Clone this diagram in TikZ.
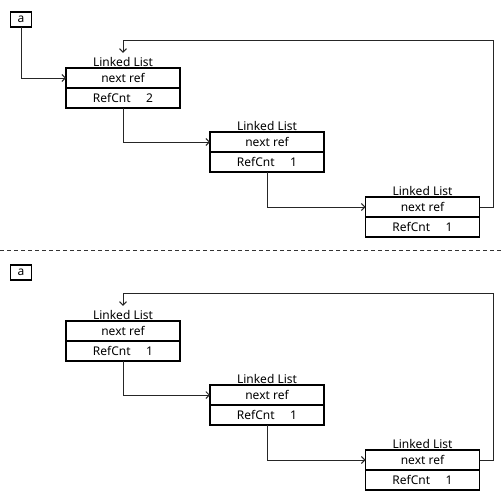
\documentclass[tikz,border=0pt]{standalone}
\usepackage{fontspec}
\setmainfont{Noto Sans}
\usetikzlibrary{arrows.meta,positioning}

\begin{document}
\begin{tikzpicture}[x=1pt,y=-1pt,>={Straight Barb[length=3.5pt,width=7pt]},
            every node/.style={font=\fontsize{12}{14}\selectfont,outer sep=0pt},
            field/.style={draw,line width=1.8pt,minimum width=114pt,minimum height=20pt,inner sep=0pt},
            var/.style={draw,line width=1.8pt,minimum width=21pt,minimum height=15pt,inner sep=0pt},
            title/.style={inner sep=1.5pt},
            link/.style={->,line width=0.9pt,draw=black!85}]
            \useasboundingbox (0,0) rectangle (504,503);

            % before
            \node[var]   (a1)                        at (21,19.5)  {a};
            \node[field] (n11)                       at (123,78)   {next ref};
            \node[field] (c11) [below=0pt of n11]                  {RefCnt\hspace{1.3em}2};
            \node[title] (t11) [above=0pt of n11]                  {Linked List};
            \node[field] (n12)                       at (267,142)  {next ref};
            \node[field] (c12) [below=0pt of n12]                  {RefCnt\hspace{1.3em}1};
            \node[title] (t12) [above=0pt of n12]                  {Linked List};
            \node[field] (n13)                       at (422.5,207) {next ref};
            \node[field] (c13) [below=0pt of n13]                  {RefCnt\hspace{1.3em}1};
            \node[title] (t13) [above=0pt of n13]                  {Linked List};
            \coordinate (r1) at (493,40);
            \draw[link] (a1) |- (n11);
            \draw[link] (c11) |- (n12);
            \draw[link] (c12) |- (n13);
            \draw[link,shorten >=3pt] (n13) -| (r1) -| (t11);

            \draw[dash pattern=on 4pt off 3pt,line width=0.8pt,black!80] (0,250) -- (504,250);

            % after
            \node[var]   (a2)                        at (21,272.5) {a};
            \node[field] (n21)                       at (123,331)  {next ref};
            \node[field] (c21) [below=0pt of n21]                  {RefCnt\hspace{1.3em}1};
            \node[title] (t21) [above=0pt of n21]                  {Linked List};
            \node[field] (n22)                       at (267,395)  {next ref};
            \node[field] (c22) [below=0pt of n22]                  {RefCnt\hspace{1.3em}1};
            \node[title] (t22) [above=0pt of n22]                  {Linked List};
            \node[field] (n23)                       at (422.5,460) {next ref};
            \node[field] (c23) [below=0pt of n23]                  {RefCnt\hspace{1.3em}1};
            \node[title] (t23) [above=0pt of n23]                  {Linked List};
            \coordinate (r2) at (493,293);
            \draw[link] (c21) |- (n22);
            \draw[link] (c22) |- (n23);
            \draw[link,shorten >=3pt] (n23) -| (r2) -| (t21);

          \end{tikzpicture}
\end{document}
